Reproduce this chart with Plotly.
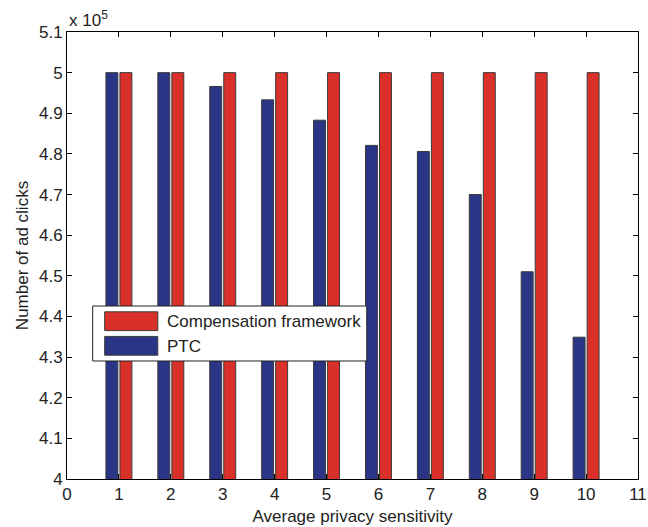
import plotly.graph_objects as go

sensitivity = [1, 2, 3, 4, 5, 6, 7, 8, 9, 10]
ptc_clicks = [5.0, 5.0, 4.966, 4.933, 4.883, 4.821, 4.806, 4.700, 4.510, 4.349]
comp_clicks = [5.0, 5.0, 5.0, 5.0, 5.0, 5.0, 5.0, 5.0, 5.0, 5.0]
y_ticks = [4.0, 4.1, 4.2, 4.3, 4.4, 4.5, 4.6, 4.7, 4.8, 4.9, 5.0, 5.1]
y_ticktext = ["4", "4.1", "4.2", "4.3", "4.4", "4.5", "4.6", "4.7", "4.8", "4.9", "5", "5.1"]
x_ticks = list(range(0, 12))

BLUE = "#2B3585"
RED = "#D9302A"
EDGE = "#3a3a3a"
FONT = "Liberation Sans, Arial, sans-serif"

fig = go.Figure()
fig.add_trace(go.Bar(x=sensitivity, y=ptc_clicks, name="PTC", base=0,
                     offset=-0.25, width=0.23, marker=dict(color=BLUE, line=dict(color=EDGE, width=1))))
fig.add_trace(go.Bar(x=sensitivity, y=comp_clicks, name="Compensation framework", base=0,
                     offset=0.02, width=0.23, marker=dict(color=RED, line=dict(color=EDGE, width=1))))

axis_common = dict(showline=True, linecolor="black", linewidth=1, mirror="ticks",
                   ticks="inside", ticklen=5, tickcolor="black", showgrid=False, zeroline=False,
                   automargin=False,
                   tickfont=dict(family=FONT, size=17, color="#222"))

fig.update_layout(
    width=648, height=527,
    margin=dict(l=67, r=10, t=32, b=48),
    paper_bgcolor="white", plot_bgcolor="white",
    barmode="overlay", showlegend=False,
    font=dict(family=FONT, size=17, color="#222"),
    xaxis=dict(range=[0, 11], tickvals=x_ticks, title=dict(text="Average privacy sensitivity",
               font=dict(family=FONT, size=17), standoff=6), **axis_common),
    yaxis=dict(range=[4.0, 5.1], tickvals=y_ticks, ticktext=y_ticktext,
               title=dict(text="Number of ad clicks", font=dict(family=FONT, size=17), standoff=6),
               **axis_common),
)

# exponent label
fig.add_annotation(xref="paper", yref="paper", x=0.0, y=1.0, xanchor="left", yanchor="bottom",
                   text="x 10<sup>5</sup>", showarrow=False, font=dict(family=FONT, size=17, color="#222"))

# manual legend (MATLAB style)
fig.add_shape(type="rect", xref="paper", yref="paper", x0=0.045, x1=0.525, y0=0.264, y1=0.387,
              line=dict(color="#222", width=1), fillcolor="white", layer="above")
fig.add_shape(type="rect", xref="paper", yref="paper", x0=0.066, x1=0.159, y0=0.332, y1=0.374,
              line=dict(color=EDGE, width=1), fillcolor=RED, layer="above")
fig.add_shape(type="rect", xref="paper", yref="paper", x0=0.066, x1=0.159, y0=0.277, y1=0.319,
              line=dict(color=EDGE, width=1), fillcolor=BLUE, layer="above")
fig.add_annotation(xref="paper", yref="paper", x=0.171, y=0.352, xanchor="left", yanchor="middle",
                   text="Compensation framework", showarrow=False,
                   font=dict(family=FONT, size=17, color="#222"))
fig.add_annotation(xref="paper", yref="paper", x=0.171, y=0.297, xanchor="left", yanchor="middle",
                   text="PTC", showarrow=False, font=dict(family=FONT, size=17, color="#222"))

fig.write_html("out.html")
